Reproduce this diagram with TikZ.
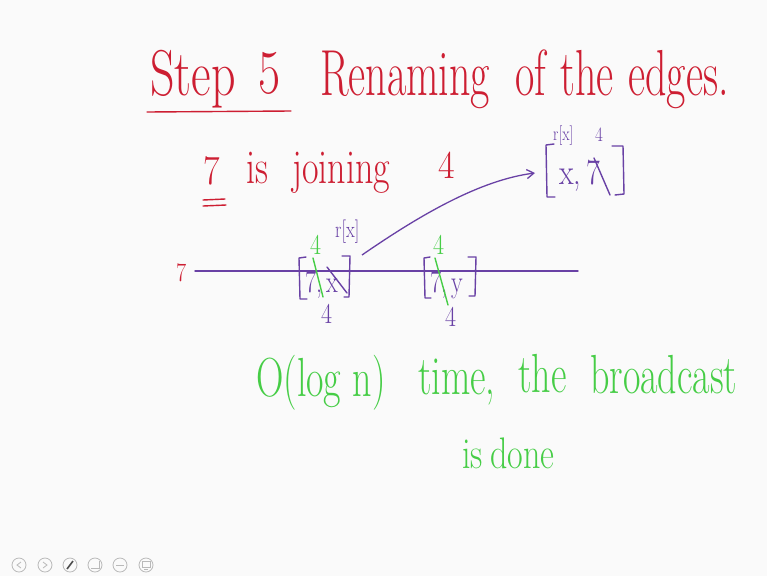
\documentclass[tikz,border=0pt]{standalone}
\usepackage{fontspec}
\usetikzlibrary{arrows.meta}
\definecolor{inkred}{RGB}{205,30,50}
\definecolor{inkpur}{RGB}{105,65,165}
\definecolor{inkgreen}{RGB}{70,205,70}
\definecolor{navgray}{RGB}{185,185,185}
\newcommand{\fs}[1]{\fontsize{#1}{#1}\selectfont}
\newcommand{\ys}[2]{\scalebox{1}[#1]{#2}}
\begin{document}
\begin{tikzpicture}[x=1pt,y=-1pt,
  hand/.style={inner sep=0pt, anchor=base west},
  redh/.style={hand, text=inkred},
  purh/.style={hand, text=inkpur},
  greenh/.style={hand, text=inkgreen},
  redline/.style={draw=inkred, line width=1.4pt, line cap=round},
  purline/.style={draw=inkpur, line width=1.4pt, line cap=round, line join=round},
  greenline/.style={draw=inkgreen, line width=1.4pt, line cap=round},
  navbtn/.style={draw=navgray, line width=0.8pt, circle, minimum size=14pt, inner sep=0pt}]
\useasboundingbox (0,0) rectangle (767,576);
\fill[white!98!black] (0,0) rectangle (767,576);

% title
\node[redh, font=\fs{48}] (step) at (150,95) {\ys{1.35}{Step}};
\node[redh, font=\fs{48}] (five) at (258,93) {\ys{1.3}{5}};
\draw[redline] (147,112) -- (291,111);
\node[redh, font=\fs{42}] (ren) at (320,95) {\ys{1.55}{Renaming}};
\node[redh, font=\fs{42}] (of) at (515,95) {\ys{1.55}{of}};
\node[redh, font=\fs{42}] (the1) at (560,95) {\ys{1.55}{the}};
\node[redh, font=\fs{42}] (edges) at (628,95) {\ys{1.55}{edges.}};

% 7 is joining 4
\node[redh, font=\fs{36}] (seven) at (203,184) {\ys{1.15}{7}};
\draw[redline] (203,200) -- (225,199);
\draw[redline] (203,206) -- (226,205);
\node[redh, font=\fs{36}] (is1) at (246,183) {\ys{1.35}{is}};
\node[redh, font=\fs{36}] (joining) at (292,183) {\ys{1.35}{joining}};
\node[redh, font=\fs{36}] (four1) at (438,178) {\ys{1.1}{4}};

% horizontal line
\node[redh, font=\fs{22}] (sevenL) at (176,281) {\ys{1.2}{7}};
\coordinate (lineL) at (195,271);
\coordinate (lineR) at (578,271);
\draw[purline] (lineL) -- (lineR);

% bracket [7, x]
\node[purh, font=\fs{24}] (pa) at (305,292) {\ys{1.3}{7,\,x}};
\draw[purline] (306,257) -- (299,258) -- (300,299) -- (307,299);
\draw[purline] (342,256) -- (350,256) -- (349,297) -- (344,297);
\draw[greenline] (313,258) -- (323,297);
\draw[purline] (327,267) -- (347,293);
\node[greenh, font=\fs{24}] (g4a) at (310,254) {\ys{1.2}{4}};
\node[purh, font=\fs{24}] (p4a) at (321,323) {\ys{1.2}{4}};
\node[purh, font=\fs{18}] (rxa) at (335,237) {\ys{1.3}{r[x]}};

% bracket [7, y]
\node[purh, font=\fs{24}] (pb) at (430,292) {\ys{1.3}{7,\,y}};
\draw[purline] (430,257) -- (424,258) -- (425,298) -- (431,298);
\draw[purline] (468,257) -- (476,257) -- (475,296) -- (469,296);
\draw[greenline] (435,258) -- (448,305);
\node[greenh, font=\fs{24}] (g4b) at (433,254) {\ys{1.2}{4}};
\node[purh, font=\fs{24}] (p4b) at (445,326) {\ys{1.2}{4}};

% top bracket [x, 7]
\node[purh, font=\fs{30}] (pc) at (559,184) {\ys{1.2}{x,\,7}};
\draw[purline] (554,144) -- (546,145) -- (547,197) -- (555,197);
\draw[purline] (612,146) -- (623,146) -- (624,194) -- (615,195);
\draw[purline] (594,158) -- (610,195);
\node[purh, font=\fs{15}] (rxc) at (553,140) {\ys{1.3}{r[x]}};
\node[purh, font=\fs{17}] (p4c) at (595,141) {\ys{1.2}{4}};

% arrow
\coordinate (arrS) at (362,255);
\coordinate (arrE) at (535,173);
\draw[draw=inkpur, line width=1.3pt, -{Straight Barb[length=7pt,width=9pt]}] (arrS) .. controls (420,215) and (480,180) .. (arrE);

% green text
\node[greenh, font=\fs{38}] (olog) at (256,396) {\ys{1.45}{O(log n)}};
\node[greenh, font=\fs{38}] (time) at (418,394) {\ys{1.45}{time,}};
\node[greenh, font=\fs{38}] (the2) at (518,392) {\ys{1.45}{the}};
\node[greenh, font=\fs{38}] (bcast) at (590,393) {\ys{1.45}{broadcast}};
\node[greenh, font=\fs{34}] (is2) at (462,468) {\ys{1.3}{is}};
\node[greenh, font=\fs{34}] (done) at (490,468) {\ys{1.3}{done}};

% nav buttons
\node[navbtn] (n1) at (19,565) {};
\node[navbtn] (n2) at (45,565) {};
\node[navbtn] (n3) at (70,565) {};
\node[navbtn] (n4) at (95,565) {};
\node[navbtn] (n5) at (120,565) {};
\node[navbtn] (n6) at (146,565) {};
\draw[navgray, line width=0.8pt] (21,562) -- (17,565) -- (21,568);
\draw[navgray, line width=0.8pt] (43,562) -- (47,565) -- (43,568);
\draw[black!70, line width=1.6pt] (67,569) -- (73,561);
\draw[navgray, line width=0.8pt] (91,568) -- (99,568) -- (99,561);
\draw[navgray, line width=0.8pt] (116,565) -- (124,565);
\draw[navgray, line width=0.8pt] (142,561) rectangle (150,567) (144,569) -- (148,569);
\end{tikzpicture}
\end{document}
